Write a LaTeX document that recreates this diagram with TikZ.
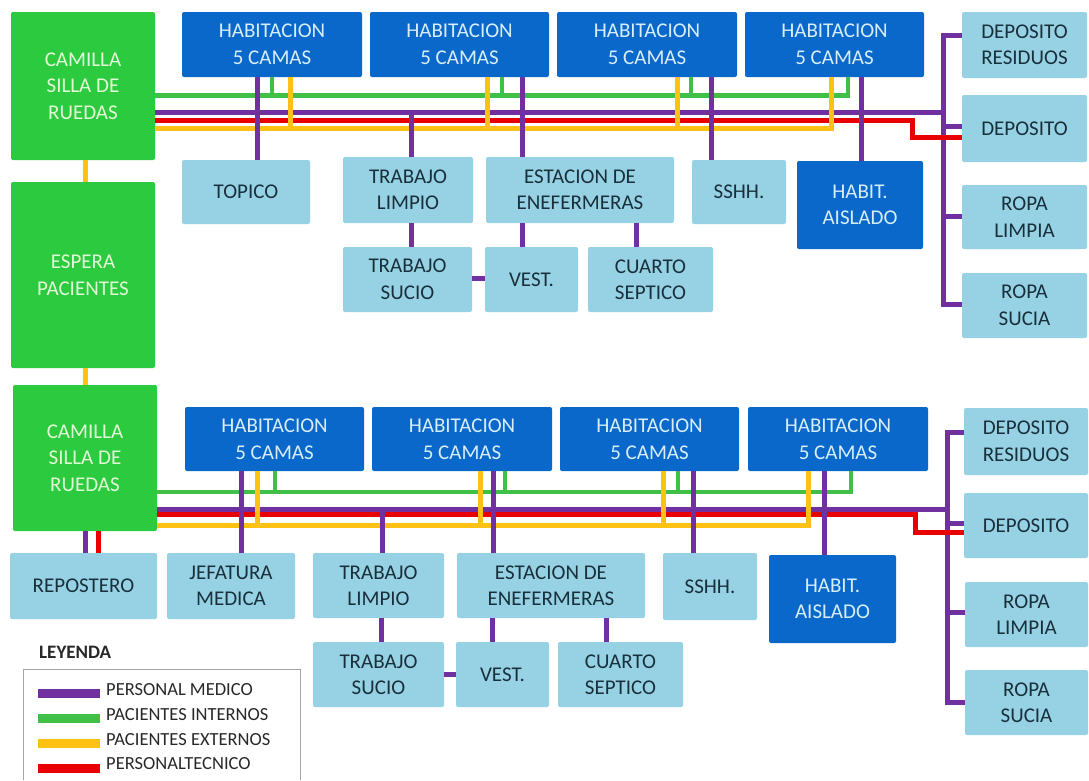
\documentclass[tikz,border=0pt]{standalone}
\usepackage{fontspec}
\setmainfont{Carlito}
\definecolor{boxgreen}{RGB}{44,202,62}
\definecolor{greentext}{RGB}{225,250,215}
\definecolor{roomblue}{RGB}{10,104,202}
\definecolor{roomtext}{RGB}{215,238,250}
\definecolor{servblue}{RGB}{150,210,228}
\definecolor{servtext}{RGB}{25,48,60}
\definecolor{medcol}{RGB}{112,48,160}
\definecolor{intcol}{RGB}{64,192,70}
\definecolor{extcol}{RGB}{255,194,20}
\definecolor{teccol}{RGB}{232,0,0}
\definecolor{legtext}{RGB}{40,40,40}

% room box from corner (x1,y1) to (x2,y2), y measured downward
\newcommand\roombox[7]{%
  \node[#2,minimum width={#5pt-#3pt},minimum height={#6pt-#4pt}] (#1)
    at ({(#3+#5)/2},{(#4+#6)/2}) {#7};}

\begin{document}
\begin{tikzpicture}[x=1pt,y=-1pt,
  box/.style={rounded corners=2pt,inner sep=0pt,outer sep=0pt,align=center,
    font=\fontsize{21}{26.5}\selectfont},
  greenbox/.style={box,fill=boxgreen,text=greentext},
  bluebox/.style={box,fill=roomblue,text=roomtext},
  lightbox/.style={box,fill=servblue,text=servtext},
  lnMed/.style={draw=medcol,line width=5pt},
  lnInt/.style={draw=intcol,line width=4.5pt},
  lnExt/.style={draw=extcol,line width=5pt},
  lnTec/.style={draw=teccol,line width=5pt},
  legitem/.style={anchor=west,inner sep=0pt,text=legtext,font=\fontsize{18.5}{22}\selectfont}]
\useasboundingbox (0,0) rectangle (1089,780);

% ---------- left column ----------
\roombox{cam1}{greenbox}{11}{12}{155}{160}{CAMILLA\\SILLA DE\\RUEDAS}
\roombox{esp}{greenbox}{11}{182}{155}{368}{ESPERA\\PACIENTES}
\roombox{cam2}{greenbox}{13}{385}{157}{531}{CAMILLA\\SILLA DE\\RUEDAS}

% ---------- upper floor ----------
\roombox{h1a}{bluebox}{182}{12}{362}{77}{HABITACION\\5 CAMAS}
\roombox{h2a}{bluebox}{370}{12}{549}{77}{HABITACION\\5 CAMAS}
\roombox{h3a}{bluebox}{557}{12}{737}{77}{HABITACION\\5 CAMAS}
\roombox{h4a}{bluebox}{745}{12}{924}{77}{HABITACION\\5 CAMAS}
\roombox{topA}{lightbox}{182}{160}{310}{224}{TOPICO}
\roombox{tlA}{lightbox}{343}{157}{473}{223}{TRABAJO\\LIMPIO}
\roombox{estA}{lightbox}{486}{157}{674}{223}{ESTACION DE\\ENEFERMERAS}
\roombox{sshA}{lightbox}{692}{160}{786}{224}{SSHH.}
\roombox{haA}{bluebox}{797}{161}{923}{249}{HABIT.\\AISLADO}
\roombox{tsA}{lightbox}{343}{247}{472}{312}{TRABAJO\\SUCIO}
\roombox{vestA}{lightbox}{485}{247}{578}{312}{VEST.}
\roombox{csA}{lightbox}{588}{247}{713}{312}{CUARTO\\SEPTICO}
\roombox{drA}{lightbox}{962}{12}{1087}{78}{DEPOSITO\\RESIDUOS}
\roombox{depA}{lightbox}{962}{95}{1087}{162}{DEPOSITO}
\roombox{rlA}{lightbox}{962}{185}{1087}{249}{ROPA\\LIMPIA}
\roombox{rsA}{lightbox}{962}{273}{1087}{338}{ROPA\\SUCIA}

% ---------- lower floor ----------
\roombox{h1b}{bluebox}{185}{407}{364}{471}{HABITACION\\5 CAMAS}
\roombox{h2b}{bluebox}{372}{407}{552}{471}{HABITACION\\5 CAMAS}
\roombox{h3b}{bluebox}{560}{407}{739}{471}{HABITACION\\5 CAMAS}
\roombox{h4b}{bluebox}{748}{407}{928}{471}{HABITACION\\5 CAMAS}
\roombox{rep}{lightbox}{10}{553}{157}{619}{REPOSTERO}
\roombox{jef}{lightbox}{167}{553}{295}{619}{JEFATURA\\MEDICA}
\roombox{tlB}{lightbox}{313}{553}{444}{618}{TRABAJO\\LIMPIO}
\roombox{estB}{lightbox}{457}{553}{645}{618}{ESTACION DE\\ENEFERMERAS}
\roombox{sshB}{lightbox}{663}{553}{757}{620}{SSHH.}
\roombox{haB}{bluebox}{769}{555}{896}{643}{HABIT.\\AISLADO}
\roombox{tsB}{lightbox}{313}{642}{444}{707}{TRABAJO\\SUCIO}
\roombox{vestB}{lightbox}{456}{642}{549}{707}{VEST.}
\roombox{csB}{lightbox}{558}{642}{683}{707}{CUARTO\\SEPTICO}
\roombox{drB}{lightbox}{964}{408}{1088}{475}{DEPOSITO\\RESIDUOS}
\roombox{depB}{lightbox}{964}{493}{1088}{558}{DEPOSITO}
\roombox{rlB}{lightbox}{965}{582}{1088}{647}{ROPA\\LIMPIA}
\roombox{rsB}{lightbox}{965}{670}{1088}{735}{ROPA\\SUCIA}

% ---------- vertical link between the green areas ----------
\draw[lnExt] (cam1.south -| 85,0) -- (esp.north -| 85,0);
\draw[lnExt] (esp.south -| 85,0) -- (cam2.north -| 85,0);

% ---------- upper floor circulation ----------
% pacientes internos
\draw[lnInt] (cam1.east |- 0,95.5) -- (848,95.5) -- (h4a.south -| 848,0);
\foreach \xx/\hh in {272/h1a,502/h2a,691/h3a}
  \draw[lnInt] (\hh.south -| \xx,0) -- (\xx,95.5);
% personal medico
\draw[lnMed] (cam1.east |- 0,112.5) -- (943,112.5);
\draw[lnMed] (drA.west |- 0,35) -- (943,35) -- (943,304) -- (rsA.west |- 0,304);
\draw[lnMed] (943,126) -- (depA.west |- 0,126);
\draw[lnMed] (943,216) -- (rlA.west |- 0,216);
% personal tecnico
\draw[lnTec] (cam1.east |- 0,120.5) -- (912,120.5) -- (912,137) -- (depA.west |- 0,137);
% pacientes externos
\draw[lnExt] (cam1.east |- 0,128.5) -- (831,128.5) -- (h4a.south -| 831,0);
\foreach \xx/\hh in {290/h1a,487/h2a,677/h3a}
  \draw[lnExt] (\hh.south -| \xx,0) -- (\xx,128.5);
% personal medico to rooms
\draw[lnMed] (h1a.south -| 257,0) -- (topA.north -| 257,0);
\draw[lnMed] (411,112.5) -- (tlA.north -| 411,0);
\draw[lnMed] (h2a.south -| 522,0) -- (estA.north -| 522,0);
\draw[lnMed] (h3a.south -| 711,0) -- (sshA.north -| 711,0);
\draw[lnMed] (h4a.south -| 861,0) -- (haA.north -| 861,0);
\draw[lnMed] (tlA.south -| 411,0) -- (tsA.north -| 411,0);
\draw[lnMed] (estA.south -| 522,0) -- (vestA.north -| 522,0);
\draw[lnMed] (estA.south -| 636,0) -- (csA.north -| 636,0);
\draw[lnMed] (tsA.east |- 0,278) -- (vestA.west |- 0,278);

% ---------- lower floor circulation ----------
% pacientes internos
\draw[lnInt] (cam2.east |- 0,492) -- (851,492) -- (h4b.south -| 851,0);
\foreach \xx/\hh in {275/h1b,505/h2b,678/h3b}
  \draw[lnInt] (\hh.south -| \xx,0) -- (\xx,492);
% personal medico
\draw[lnMed] (cam2.east |- 0,509.5) -- (947,509.5);
\draw[lnMed] (drB.west |- 0,432) -- (947,432) -- (947,702) -- (rsB.west |- 0,702);
\draw[lnMed] (947,523) -- (depB.west |- 0,523);
\draw[lnMed] (947,612) -- (rlB.west |- 0,612);
% personal tecnico
\draw[lnTec] (cam2.east |- 0,514.5) -- (915,514.5) -- (915,532) -- (depB.west |- 0,532);
% pacientes externos
\draw[lnExt] (cam2.east |- 0,525.5) -- (808,525.5) -- (h4b.south -| 808,0);
\foreach \xx/\hh in {257/h1b,480/h2b,663/h3b}
  \draw[lnExt] (\hh.south -| \xx,0) -- (\xx,525.5);
% personal medico to rooms
\draw[lnMed] (h1b.south -| 241,0) -- (jef.north -| 241,0);
\draw[lnMed] (382,509.5) -- (tlB.north -| 382,0);
\draw[lnMed] (h2b.south -| 493,0) -- (estB.north -| 493,0);
\draw[lnMed] (h3b.south -| 693,0) -- (sshB.north -| 693,0);
\draw[lnMed] (h4b.south -| 824,0) -- (haB.north -| 824,0);
\draw[lnMed] (tlB.south -| 381,0) -- (tsB.north -| 381,0);
\draw[lnMed] (estB.south -| 492,0) -- (vestB.north -| 492,0);
\draw[lnMed] (estB.south -| 606,0) -- (csB.north -| 606,0);
\draw[lnMed] (tsB.east |- 0,674) -- (vestB.west |- 0,674);
% green area to repostero
\draw[lnMed] (cam2.south -| 85,0) -- (rep.north -| 85,0);
\draw[lnTec] (cam2.south -| 98,0) -- (rep.north -| 98,0);

% ---------- legend ----------
\node[anchor=west,inner sep=0pt,text=legtext,font=\bfseries\fontsize{19}{22}\selectfont]
  (legtitle) at (39,652) {LEYENDA};
\draw[black!35,line width=0.8pt] (23,780) -- (23,669) -- (300,669) -- (300,780);
\fill[medcol] (38,688.5) rectangle (100,697.5);
\fill[intcol] (38,713.5) rectangle (100,722.5);
\fill[extcol] (38,738.5) rectangle (100,747.5);
\fill[teccol] (38,763.5) rectangle (100,772.5);
\node[legitem] (lmed) at (106,690) {PERSONAL MEDICO};
\node[legitem] (lint) at (106,715) {PACIENTES INTERNOS};
\node[legitem] (lext) at (106,740) {PACIENTES EXTERNOS};
\node[legitem] (ltec) at (106,764) {PERSONALTECNICO};
\end{tikzpicture}
\end{document}
